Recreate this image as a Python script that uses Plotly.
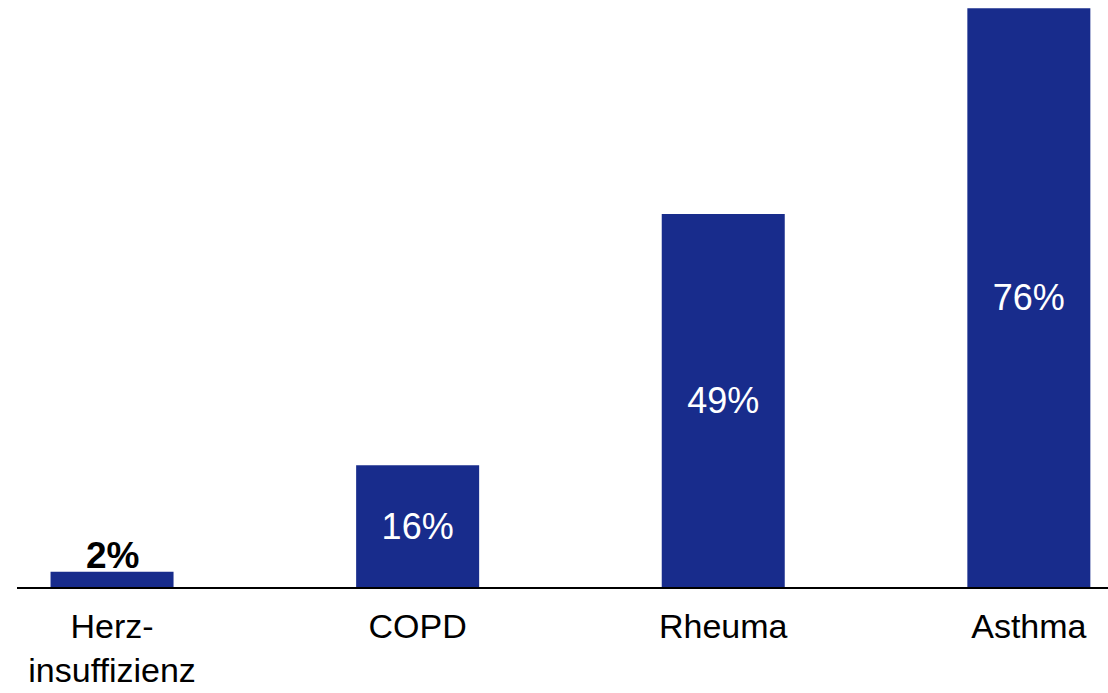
import plotly.graph_objects as go

# Share of patients per condition (percent)
categories = ["Herz-<br>insuffizienz", "COPD", "Rheuma", "Asthma"]
values = [2, 16, 49, 76]
labels = ["2%", "16%", "49%", "76%"]

bar_color = "#182C8C"
font_family = "Liberation Sans, Arial, sans-serif"

# Small bars get their label above the bar, tall bars inside it
inside_labels = [lab if v >= 10 else "" for lab, v in zip(labels, values)]

fig = go.Figure(
    go.Bar(
        x=categories,
        y=values,
        width=0.4025,
        marker=dict(color=bar_color, line=dict(width=0)),
        text=inside_labels,
        textposition="inside",
        insidetextanchor="middle",
        insidetextfont=dict(family=font_family, size=36, color="white"),
        cliponaxis=False,
        hoverinfo="skip",
    )
)

for cat, v, lab in zip(categories, values, labels):
    if v < 10:
        fig.add_annotation(
            x=cat,
            y=v,
            text=f"<b>{lab}</b>",
            showarrow=False,
            yanchor="bottom",
            yshift=-6,
            font=dict(family=font_family, size=37, color="black"),
        )

fig.update_layout(
    width=1108,
    height=693,
    margin=dict(l=17, r=0, t=0, b=106),
    paper_bgcolor="white",
    plot_bgcolor="white",
    showlegend=False,
    xaxis=dict(
        type="category",
        range=[-0.311, 3.259],
        automargin=False,
        showline=True,
        linecolor="black",
        linewidth=2,
        showgrid=False,
        zeroline=False,
        ticks="outside",
        ticklen=8,
        tickcolor="rgba(0,0,0,0)",
        tickfont=dict(family=font_family, size=34, color="black"),
    ),
    yaxis=dict(
        range=[0, 77.1],
        visible=False,
        automargin=False,
        showgrid=False,
        zeroline=False,
    ),
)

fig.write_html("out.html")
